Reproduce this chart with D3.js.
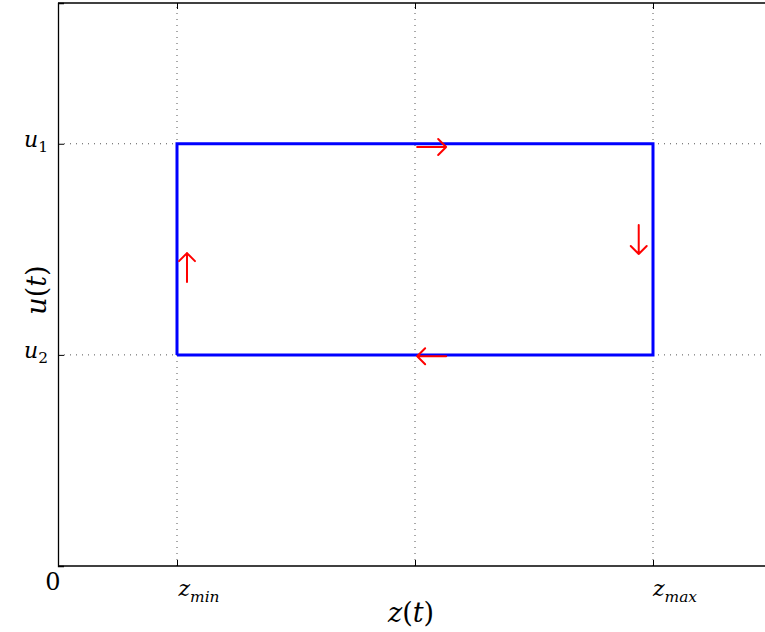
<!DOCTYPE html>
<html><head><meta charset="utf-8">
<script src="https://cdn.jsdelivr.net/npm/d3@7"></script>
<style>body{margin:0;background:#fff}svg{display:block}</style>
</head><body><div id="c"></div>
<script>
// data
const xTicks = [1, 3, 5];
const xTickLabels = [["z","min"], null, ["z","max"]];
const yTicks = [3, 1.5];
const yTickLabels = [["u","1"], ["u","2"]];
const cycleZ = [1, 1, 5, 5, 1];
const cycleU = [1.5, 3, 3, 1.5, 1.5];
const arrowZ = [3.14, 4.88, 3.14, 1.084];
const arrowU = [2.977, 2.32, 1.49, 2.12];
const arrowDir = ["right", "down", "left", "up"];

const FONT = "DejaVu Serif";
const W = 765, H = 632;
const svg = d3.select("#c").append("svg").attr("width", W).attr("height", H);
const x = d3.scaleLinear().domain([0, 6]).range([58, 772]);
const y = d3.scaleLinear().domain([0, 4]).range([566, 3]);

// grid
svg.append("g").selectAll("line").data(xTicks).join("line")
  .attr("x1", d => x(d)).attr("x2", d => x(d)).attr("y1", y(0)).attr("y2", y(4))
  .attr("stroke", "#555").attr("stroke-width", 1).attr("stroke-dasharray", "1,5");
svg.append("g").selectAll("line").data(yTicks).join("line")
  .attr("x1", x(0)).attr("x2", W).attr("y1", d => y(d)).attr("y2", d => y(d))
  .attr("stroke", "#555").attr("stroke-width", 1).attr("stroke-dasharray", "1,5");

// axes
const xb = svg.append("g").attr("transform", `translate(0,${y(0)})`)
  .call(d3.axisBottom(x).tickValues(xTicks).tickSize(-6).tickFormat(""));
const xt = svg.append("g").attr("transform", `translate(0,${y(4)})`)
  .call(d3.axisTop(x).tickValues(xTicks).tickSize(-6).tickFormat(""));
const yl = svg.append("g").attr("transform", `translate(${x(0)},0)`)
  .call(d3.axisLeft(y).tickValues(yTicks).tickSize(-6).tickFormat(""));
[xb, xt, yl].forEach(g => { g.select(".domain").attr("stroke", "#000").attr("stroke-width", 1.3); g.selectAll(".tick line").attr("stroke", "#000"); });
xt.select(".domain").attr("d", `M${x(0)},0H${W + 10}`);
xb.select(".domain").attr("d", `M${x(0)},0H${W + 10}`);

// cycle
const pts = cycleZ.map((z, i) => [x(z), y(cycleU[i])]);
svg.append("path").attr("d", d3.line()(pts)).attr("fill", "none")
  .attr("stroke", "#0000ff").attr("stroke-width", 3).attr("stroke-linejoin", "miter");

// arrows (drawn as shaft + open head)
const L = 14.5, Hd = 8;
function arrowPath(cx, cy, dir) {
  const v = {right: [1, 0], left: [-1, 0], up: [0, -1], down: [0, 1]}[dir];
  const tx = cx + v[0] * L, ty = cy + v[1] * L;
  const sx = cx - v[0] * L, sy = cy - v[1] * L;
  const px = -v[1], py = v[0];
  return `M${sx},${sy}L${tx},${ty}` +
    `M${tx - v[0] * Hd + px * Hd},${ty - v[1] * Hd + py * Hd}L${tx},${ty}L${tx - v[0] * Hd - px * Hd},${ty - v[1] * Hd - py * Hd}`;
}
svg.append("g").selectAll("path").data(arrowDir).join("path")
  .attr("d", (d, i) => arrowPath(x(arrowZ[i]), y(arrowU[i]), d))
  .attr("fill", "none").attr("stroke", "#ff0000").attr("stroke-width", 2)
  .attr("stroke-linejoin", "round").attr("stroke-linecap", "round");

// tick labels
function mathLabel(g, lab, px, py, size) {
  const t = g.append("text").attr("x", px).attr("y", py).attr("text-anchor", "middle")
    .attr("font-family", FONT).attr("font-size", size).attr("font-style", "italic");
  t.append("tspan").text(lab[0]);
  t.append("tspan").attr("font-size", size * 0.7).attr("dy", size * 0.25)
    .attr("font-style", isNaN(+lab[1]) ? "italic" : "normal").text(lab[1]);
}
xTicks.forEach((d, i) => { if (xTickLabels[i]) mathLabel(svg, xTickLabels[i], x(d) + 22, 596, 22); });
yTicks.forEach((d, i) => mathLabel(svg, yTickLabels[i], 36, y(d) + 3, 22));
svg.append("text").attr("x", 53).attr("y", 590).attr("text-anchor", "middle")
  .attr("font-family", FONT).attr("font-size", 24).text("0");

// axis titles
svg.append("text").attr("x", 411).attr("y", 622).attr("text-anchor", "middle")
  .attr("font-family", FONT).attr("font-size", 27)
  .html('<tspan font-style="italic">z</tspan>(<tspan font-style="italic">t</tspan>)');
svg.append("text").attr("transform", "translate(46,290) rotate(-90)").attr("text-anchor", "middle")
  .attr("font-family", FONT).attr("font-size", 27)
  .html('<tspan font-style="italic">u</tspan>(<tspan font-style="italic">t</tspan>)');
</script></body></html>
